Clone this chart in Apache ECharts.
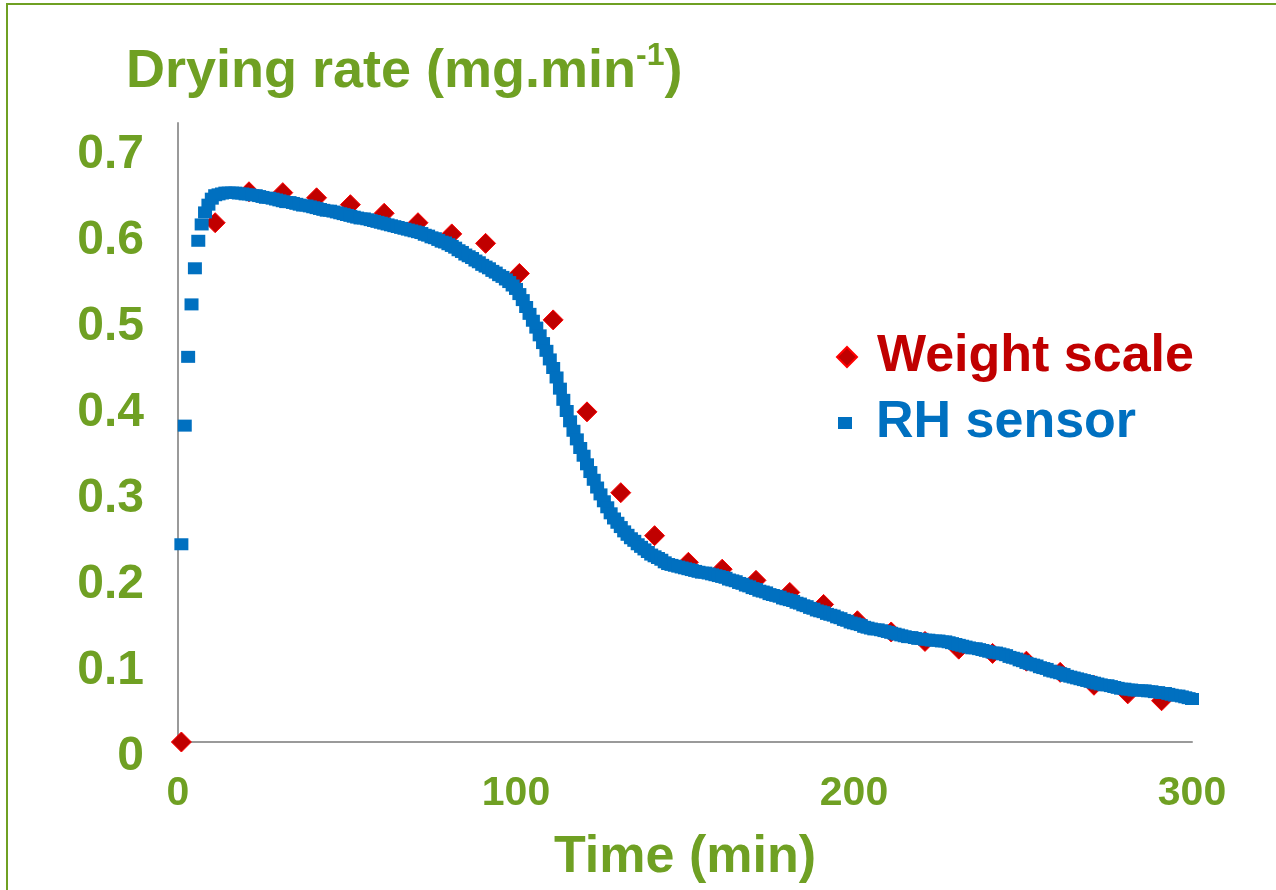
<!DOCTYPE html>
<html>
<head>
<meta charset="utf-8">
<script src="https://cdn.jsdelivr.net/npm/echarts@6/dist/echarts.min.js"></script>
<style>
  html, body { margin: 0; padding: 0; background: #fff; }
  #main { width: 1276px; height: 890px; }
</style>
</head>
<body>
<div id="main"></div>
<script>
  // weight scale: one reading every 10 min
  var wsTimes = [1, 11, 21, 31, 41, 51, 61, 71, 81, 91, 101, 111, 121, 131, 141,
    151, 161, 171, 181, 191, 201, 211, 221, 231, 241, 251, 261, 271, 281, 291];
  var wsRates = [0, 0.604, 0.640, 0.639, 0.633, 0.625, 0.615, 0.604, 0.591, 0.580,
    0.545, 0.491, 0.384, 0.290, 0.240, 0.209, 0.201, 0.188, 0.174, 0.160,
    0.141, 0.128, 0.117, 0.108, 0.103, 0.094, 0.081, 0.066, 0.056, 0.048];

  // RH sensor: one reading per minute, from t = 1 min
  var rhStart = 1;
  var rhStep = 1;
  var rhRates = [
    0.230, 0.368, 0.448, 0.509, 0.551, 0.583, 0.602, 0.616, 0.625, 0.632,
    0.636, 0.637, 0.638, 0.639, 0.639, 0.639, 0.639, 0.638, 0.638, 0.637,
    0.637, 0.636, 0.636, 0.635, 0.634, 0.633, 0.633, 0.632, 0.631, 0.630,
    0.629, 0.628, 0.628, 0.627, 0.626, 0.625, 0.624, 0.624, 0.623, 0.622,
    0.621, 0.620, 0.619, 0.618, 0.618, 0.617, 0.616, 0.615, 0.614, 0.613,
    0.612, 0.611, 0.610, 0.609, 0.609, 0.608, 0.607, 0.606, 0.605, 0.604,
    0.603, 0.602, 0.601, 0.600, 0.599, 0.598, 0.597, 0.596, 0.595, 0.594,
    0.593, 0.592, 0.590, 0.589, 0.587, 0.586, 0.584, 0.582, 0.581, 0.579,
    0.577, 0.575, 0.572, 0.570, 0.567, 0.565, 0.563, 0.560, 0.558, 0.555,
    0.553, 0.551, 0.548, 0.546, 0.543, 0.541, 0.538, 0.535, 0.531, 0.527,
    0.521, 0.514, 0.506, 0.498, 0.490, 0.482, 0.473, 0.464, 0.455, 0.445,
    0.435, 0.424, 0.411, 0.398, 0.385, 0.373, 0.362, 0.352, 0.342, 0.333,
    0.323, 0.314, 0.305, 0.296, 0.288, 0.280, 0.273, 0.266, 0.260, 0.255,
    0.250, 0.245, 0.241, 0.237, 0.234, 0.230, 0.227, 0.224, 0.221, 0.218,
    0.216, 0.214, 0.212, 0.209, 0.207, 0.206, 0.205, 0.204, 0.203, 0.202,
    0.201, 0.200, 0.199, 0.198, 0.197, 0.197, 0.196, 0.195, 0.194, 0.193,
    0.192, 0.191, 0.189, 0.188, 0.187, 0.185, 0.184, 0.182, 0.181, 0.179,
    0.178, 0.176, 0.175, 0.174, 0.172, 0.171, 0.170, 0.169, 0.167, 0.166,
    0.165, 0.164, 0.162, 0.161, 0.159, 0.158, 0.156, 0.155, 0.153, 0.152,
    0.151, 0.149, 0.148, 0.147, 0.145, 0.144, 0.142, 0.141, 0.139, 0.138,
    0.137, 0.136, 0.134, 0.133, 0.132, 0.131, 0.131, 0.130, 0.129, 0.128,
    0.127, 0.126, 0.125, 0.124, 0.123, 0.122, 0.122, 0.121, 0.120, 0.120,
    0.119, 0.119, 0.118, 0.118, 0.118, 0.117, 0.117, 0.116, 0.115, 0.114,
    0.113, 0.112, 0.111, 0.110, 0.109, 0.109, 0.108, 0.107, 0.106, 0.105,
    0.104, 0.104, 0.103, 0.102, 0.101, 0.099, 0.098, 0.097, 0.095, 0.094,
    0.092, 0.091, 0.090, 0.089, 0.087, 0.086, 0.085, 0.083, 0.082, 0.081,
    0.080, 0.079, 0.077, 0.076, 0.075, 0.074, 0.073, 0.072, 0.071, 0.070,
    0.069, 0.068, 0.067, 0.066, 0.066, 0.065, 0.064, 0.063, 0.062, 0.062,
    0.061, 0.061, 0.060, 0.060, 0.060, 0.060, 0.059, 0.059, 0.058, 0.058,
    0.057, 0.057, 0.056, 0.055, 0.054, 0.054, 0.053, 0.052, 0.051, 0.050
  ];

  var green = '#6FA023';
  var font = '"Liberation Sans", Arial, sans-serif';

  var wsData = wsTimes.map(function (t, i) { return [t, wsRates[i]]; });
  var rhData = rhRates.map(function (v, i) { return [rhStart + i * rhStep, v]; });

  var myChart = echarts.init(document.getElementById('main'));
  var option = {
    animation: false,
    backgroundColor: '#fff',
    textStyle: { fontFamily: font },
    graphic: [
      // slide frame (only top and left edges are inside the picture)
      {
        type: 'rect',
        shape: { x: 7, y: 4, width: 1320, height: 940 },
        style: { fill: 'none', stroke: green, lineWidth: 2 },
        silent: true
      }
    ],
    title: {
      left: 126,
      top: 40,
      padding: 0,
      text: '{a|Drying rate (mg.min}{s|-1}{a|)}',
      textStyle: {
        rich: {
          a: { fontSize: 54, fontWeight: 'bold', color: green, fontFamily: font, lineHeight: 64 },
          s: { fontSize: 32, fontWeight: 'bold', color: green, fontFamily: font, verticalAlign: 'top', lineHeight: 64, padding: [0, 0, 24, 0] }
        }
      }
    },
    legend: [
      {
        data: [{ name: 'Weight scale', icon: 'diamond', textStyle: { color: '#C00000' } }],
        left: 836, top: 327, padding: 0,
        itemWidth: 20, itemHeight: 20,
        itemStyle: { opacity: 1 },
        textStyle: { fontSize: 52, fontWeight: 'bold', fontFamily: font, lineHeight: 60, padding: [0, 0, 0, 15] }
      },
      {
        data: [{ name: 'RH sensor', icon: 'rect', textStyle: { color: '#0070C0' } }],
        left: 838, top: 393, padding: 0,
        itemWidth: 14, itemHeight: 12,
        itemStyle: { opacity: 1 },
        textStyle: { fontSize: 52, fontWeight: 'bold', fontFamily: font, lineHeight: 60, padding: [0, 0, 0, 19] }
      }
    ],
    grid: { left: 178, right: 84, top: 123, bottom: 148 },
    xAxis: {
      type: 'value',
      min: 0, max: 300, interval: 100,
      name: 'Time (min)',
      nameLocation: 'middle',
      nameGap: 90,
      nameTextStyle: { fontSize: 52, fontWeight: 'bold', color: green, fontFamily: font },
      axisLine: { show: true, lineStyle: { color: '#9A9A9A', width: 2 } },
      axisTick: { show: false },
      splitLine: { show: false },
      axisLabel: { fontSize: 41, fontWeight: 'bold', color: green, margin: 31, fontFamily: font }
    },
    yAxis: {
      type: 'value',
      min: 0, max: 0.72, interval: 0.1,
      axisLine: { show: true, lineStyle: { color: '#9A9A9A', width: 2 } },
      axisTick: { show: false },
      splitLine: { show: false },
      axisLabel: {
        fontSize: 48, fontWeight: 'bold', color: green, margin: 34, fontFamily: font,
        verticalAlign: 'top', lineHeight: 30,
        formatter: function (v) {
          if (v > 0.71) return '';
          return v === 0 ? '0' : v.toFixed(1);
        }
      }
    },
    series: [
      {
        name: 'Weight scale',
        type: 'scatter',
        symbol: 'diamond',
        symbolSize: [20, 20],
        itemStyle: { color: '#C00000', borderColor: '#FF0000', borderWidth: 1, opacity: 1 },
        data: wsData
      },
      {
        name: 'RH sensor',
        type: 'scatter',
        symbol: 'rect',
        symbolSize: [14, 12],
        itemStyle: { color: '#0070C0', opacity: 1 },
        data: rhData
      }
    ]
  };
  option && myChart.setOption(option);
</script>
</body>
</html>
